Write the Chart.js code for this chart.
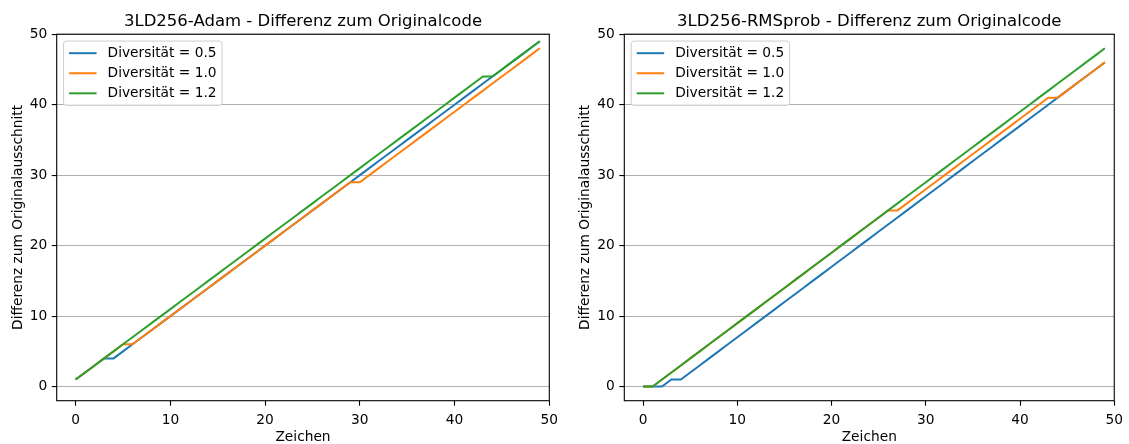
<!DOCTYPE html>
<html>
<head>
<meta charset="utf-8">
<script src="https://cdn.jsdelivr.net/npm/chart.js@4"></script>
<style>
  html, body { margin: 0; padding: 0; background: #fff; }
  #wrap { position: relative; width: 1129px; height: 444px; overflow: hidden; }
  canvas { position: absolute; top: 0; }
</style>
</head>
<body>
<div id="wrap">
  <canvas id="adam" width="567" height="444" style="left:0px"></canvas>
  <canvas id="rms" width="562" height="444" style="left:567px"></canvas>
</div>
<script>
// Character position along the generated text
const zeichen = [0,1,2,3,4,5,6,7,8,9,10,11,12,13,14,15,16,17,18,19,20,21,22,23,24,25,26,27,28,29,30,31,32,33,34,35,36,37,38,39,40,41,42,43,44,45,46,47,48,49];

// 3LD256-Adam
const adam05 = [1,2,3,4,4,5,6,7,8,9,10,11,12,13,14,15,16,17,18,19,20,21,22,23,24,25,26,27,28,29,30,31,32,33,34,35,36,37,38,39,40,41,42,43,44,45,46,47,48,49];
const adam10 = [1,2,3,4,5,6,6,7,8,9,10,11,12,13,14,15,16,17,18,19,20,21,22,23,24,25,26,27,28,29,29,30,31,32,33,34,35,36,37,38,39,40,41,42,43,44,45,46,47,48];
const adam12 = [1,2,3,4,5,6,7,8,9,10,11,12,13,14,15,16,17,18,19,20,21,22,23,24,25,26,27,28,29,30,31,32,33,34,35,36,37,38,39,40,41,42,43,44,44,45,46,47,48,49];

// 3LD256-RMSprob
const rms05 = [0,0,0,1,1,2,3,4,5,6,7,8,9,10,11,12,13,14,15,16,17,18,19,20,21,22,23,24,25,26,27,28,29,30,31,32,33,34,35,36,37,38,39,40,41,42,43,44,45,46];
const rms10 = [0,0,1,2,3,4,5,6,7,8,9,10,11,12,13,14,15,16,17,18,19,20,21,22,23,24,25,25,26,27,28,29,30,31,32,33,34,35,36,37,38,39,40,41,41,42,43,44,45,46];
const rms12 = [0,0,1,2,3,4,5,6,7,8,9,10,11,12,13,14,15,16,17,18,19,20,21,22,23,24,25,26,27,28,29,30,31,32,33,34,35,36,37,38,39,40,41,42,43,44,45,46,47,48];

const seriesLabels = ['Diversität = 0.5', 'Diversität = 1.0', 'Diversität = 1.2'];
const seriesColors = ['#1f77b4', '#ff7f0e', '#2ca02c'];

const xTicks = [0, 10, 20, 30, 40, 50];
const yTicks = [0, 10, 20, 30, 40, 50];

const FONT = '"DejaVu Sans", sans-serif';
const FS = 13.75;

// Title centred over the plot area
const panelTitle = {
  id: 'panelTitle',
  afterDraw(chart, args, opts) {
    const { ctx, chartArea } = chart;
    ctx.save();
    ctx.font = `16.5px ${FONT}`;
    ctx.fillStyle = '#000';
    ctx.textAlign = 'center';
    ctx.textBaseline = 'alphabetic';
    ctx.fillText(opts.text, (chartArea.left + chartArea.right) / 2, 25.5);
    ctx.restore();
  }
};

// Box around the plot area
const frame = {
  id: 'frame',
  afterDraw(chart) {
    const { ctx, chartArea: a } = chart;
    ctx.save();
    ctx.strokeStyle = '#000';
    ctx.lineWidth = 1.1;
    ctx.strokeRect(a.left, a.top, a.right - a.left, a.bottom - a.top);
    ctx.restore();
  }
};

// Legend placed inside the upper-left corner of the plot
const innerLegend = {
  id: 'innerLegend',
  afterDraw(chart) {
    const { ctx, chartArea: a } = chart;
    const ds = chart.data.datasets;
    const pad = 0.4 * FS, hl = 2 * FS, htp = 0.8 * FS, ls = 0.5 * FS, bap = 0.5 * FS;
    const rowH = 13.2;
    ctx.save();
    ctx.font = `${FS}px ${FONT}`;
    let tw = 0;
    ds.forEach(d => { tw = Math.max(tw, ctx.measureText(d.label).width); });
    const x0 = a.left + bap, y0 = a.top + bap;
    const w = 2 * pad + hl + htp + tw;
    const h = 2 * pad + ds.length * rowH + (ds.length - 1) * ls;
    const r = 0.2 * FS;
    ctx.beginPath();
    ctx.moveTo(x0 + r, y0);
    ctx.lineTo(x0 + w - r, y0);
    ctx.arcTo(x0 + w, y0, x0 + w, y0 + r, r);
    ctx.lineTo(x0 + w, y0 + h - r);
    ctx.arcTo(x0 + w, y0 + h, x0 + w - r, y0 + h, r);
    ctx.lineTo(x0 + r, y0 + h);
    ctx.arcTo(x0, y0 + h, x0, y0 + h - r, r);
    ctx.lineTo(x0, y0 + r);
    ctx.arcTo(x0, y0, x0 + r, y0, r);
    ctx.closePath();
    ctx.fillStyle = 'rgba(255,255,255,0.8)';
    ctx.fill();
    ctx.strokeStyle = '#cccccc';
    ctx.lineWidth = 1;
    ctx.stroke();
    ds.forEach((d, i) => {
      const cy = y0 + pad + rowH / 2 + i * (rowH + ls);
      ctx.strokeStyle = d.borderColor;
      ctx.lineWidth = 2;
      ctx.beginPath();
      ctx.moveTo(x0 + pad, cy);
      ctx.lineTo(x0 + pad + hl, cy);
      ctx.stroke();
      ctx.fillStyle = '#000';
      ctx.textAlign = 'left';
      ctx.textBaseline = 'middle';
      ctx.fillText(d.label, x0 + pad + hl + htp, cy);
    });
    ctx.restore();
  }
};

function makeChart(id, title, values, yAxisWidth, padRight) {
  const n = values.length;
  return new Chart(document.getElementById(id), {
    type: 'line',
    data: {
      datasets: values.map((v, i) => ({
        label: seriesLabels[i],
        data: zeichen.map((x, j) => ({ x: x, y: v[j] })),
        borderColor: seriesColors[i],
        backgroundColor: seriesColors[i],
        borderWidth: 2,
        pointRadius: 0,
        tension: 0,
        fill: false,
        order: n - i
      }))
    },
    options: {
      responsive: false,
      animation: false,
      devicePixelRatio: 1,
      layout: { padding: { left: 0, right: padRight, top: 34.2, bottom: 0 } },
      plugins: {
        legend: { display: false },
        tooltip: { enabled: false },
        title: { display: false },
        panelTitle: { text: title }
      },
      scales: {
        x: {
          type: 'linear',
          min: -2,
          max: 50,
          afterBuildTicks: s => { s.ticks = xTicks.map(v => ({ value: v })); },
          afterFit: s => { s.height = 43.3; },
          grid: { drawOnChartArea: false, drawTicks: true, tickLength: 5, tickColor: '#000', tickWidth: 1.1 },
          border: { display: false },
          ticks: { color: '#000', font: { family: FONT, size: FS }, padding: 6, maxRotation: 0, autoSkip: false },
          title: { display: true, text: 'Zeichen', color: '#000', font: { family: FONT, size: FS, lineHeight: 1.0 }, padding: { top: 0, bottom: 0 } }
        },
        y: {
          min: -2,
          max: 50,
          afterBuildTicks: s => { s.ticks = yTicks.map(v => ({ value: v })); },
          afterFit: s => { s.width = yAxisWidth; },
          grid: { color: '#b0b0b0', lineWidth: 1.1, drawTicks: true, tickLength: 5, tickColor: '#000', tickWidth: 1.1 },
          border: { display: false },
          ticks: { color: '#000', font: { family: FONT, size: FS }, padding: 4.5 },
          title: { display: true, text: 'Differenz zum Originalausschnitt', color: '#000', font: { family: FONT, size: FS }, padding: { top: 10, bottom: 0 } }
        }
      }
    },
    plugins: [panelTitle, frame, innerLegend]
  });
}

makeChart('adam', '3LD256-Adam - Differenz zum Originalcode', [adam05, adam10, adam12], 56.7, 17.7);
makeChart('rms', '3LD256-RMSprob - Differenz zum Originalcode', [rms05, rms10, rms12], 57.3, 13);
</script>
</body>
</html>
